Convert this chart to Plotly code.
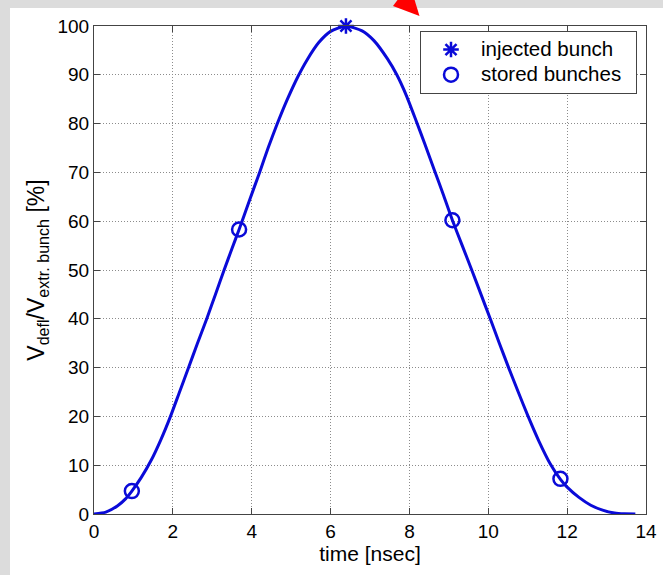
import plotly.graph_objects as go

# ---- data ----
curve_t = [0, 0.3, 0.6, 0.8, 0.96, 1.2, 1.45, 1.7, 1.93, 2.16, 2.39, 2.62, 2.86,
           3.08, 3.30, 3.50, 3.68, 3.94, 4.20, 4.42, 4.64, 4.9, 5.17, 5.4, 5.7,
           6.0, 6.39, 6.8, 7.1, 7.44, 7.68, 7.92, 8.16, 8.40, 8.64, 8.87, 9.09,
           9.34, 9.59, 9.82, 10.05, 10.28, 10.52, 10.76, 11.0, 11.28, 11.57,
           11.83, 12.0, 12.3, 12.6, 12.9, 13.2, 13.45, 13.73]
curve_v = [0, 0.4, 1.7, 3.1, 4.7, 7.5, 11.0, 15.3, 19.8, 24.8, 29.8, 34.9, 40,
           45, 50, 54.4, 58.3, 64.2, 70, 75.1, 79.8, 84.9, 89.6, 93.0, 96.6,
           98.9, 100, 99.0, 97.0, 93.3, 90.0, 85.8, 80.8, 75.6, 70.3, 65.2, 60.2,
           55.0, 49.8, 44.9, 40, 35.0, 29.9, 25.0, 20.2, 15.0, 10.3,
           7.1, 5.5, 3.4, 1.8, 0.8, 0.2, 0.03, 0]

injected_t = [6.39]
injected_v = [100]

stored_t = [0.96, 3.68, 9.09, 11.83]
stored_v = [4.7, 58.3, 60.2, 7.2]

legend_names = ["injected bunch", "stored bunches"]

x_ticks = [0, 2, 4, 6, 8, 10, 12, 14]
y_ticks = [0, 10, 20, 30, 40, 50, 60, 70, 80, 90, 100]

BLUE = "#0a0ad8"
FONT = "Liberation Sans, Arial, sans-serif"


def legend_label(s):
    return f'<span style="font-size:20.5px">{s}</span>&nbsp;&nbsp;'


fig = go.Figure()
fig.add_trace(go.Scatter(x=curve_t, y=curve_v, mode="lines",
                         line=dict(color=BLUE, width=3, shape="spline", smoothing=0.6),
                         showlegend=False, hoverinfo="skip"))
fig.add_trace(go.Scatter(x=injected_t, y=injected_v, mode="markers",
                         name=legend_label(legend_names[0]),
                         marker=dict(symbol="asterisk-open", size=13,
                                     line=dict(color=BLUE, width=2.5), color=BLUE),
                         cliponaxis=False))
fig.add_trace(go.Scatter(x=stored_t, y=stored_v, mode="markers",
                         name=legend_label(legend_names[1]),
                         marker=dict(symbol="circle-open", size=14,
                                     line=dict(color=BLUE, width=2.5), color=BLUE),
                         cliponaxis=False))

L, R, T, B = 94, 17, 26, 61
W, H = 663, 575
pw, ph = W - L - R, H - T - B


def px(x):
    return (x - L) / pw


def py(y):
    return (H - B - y) / ph


axis_common = dict(showline=True, linecolor="#444444", linewidth=1, mirror="ticks",
                   ticks="inside", ticklen=6, tickcolor="#444444",
                   showgrid=True, gridcolor="#8c8c8c", griddash="1px,2px", gridwidth=1,
                   zeroline=False, tickfont=dict(family=FONT, size=19, color="black"))

fig.update_layout(
    width=W, height=H,
    margin=dict(l=L, r=R, t=T, b=B, autoexpand=False),
    paper_bgcolor="#dcdcdc", plot_bgcolor="white",
    font=dict(family=FONT, color="black"),
    xaxis=dict(range=[0, 14], tickvals=x_ticks, **axis_common,
               title=dict(text="time [nsec]", font=dict(family=FONT, size=21), standoff=2)),
    yaxis=dict(range=[0, 100], tickvals=y_ticks, **axis_common,
               title=dict(text="V<sub>defl</sub>/V<sub>extr. bunch</sub> [%]",
                          font=dict(family=FONT, size=23), standoff=6)),
    legend=dict(x=1 - 9 / pw, y=1 - 5 / ph, xanchor="right", yanchor="top",
                bgcolor="white", bordercolor="#444444", borderwidth=1,
                font=dict(family=FONT, size=17), itemwidth=50,
                tracegroupgap=0),
    shapes=[
        dict(type="rect", xref="paper", yref="paper", layer="below",
             x0=px(10), x1=px(W + 5), y0=py(H + 5), y1=py(8),
             fillcolor="white", line=dict(width=0)),
        dict(type="path", xref="paper", yref="paper", layer="above",
             path=f"M {px(393)} {py(6)} L {px(399)} {py(-2)} L {px(414)} {py(-2)} L {px(419.5)} {py(16)} Z",
             fillcolor="#ff0000", line=dict(width=0)),
    ],
)

fig.write_html("out.html", config={"displayModeBar": False},
               post_script="document.body.style.margin='0';")
